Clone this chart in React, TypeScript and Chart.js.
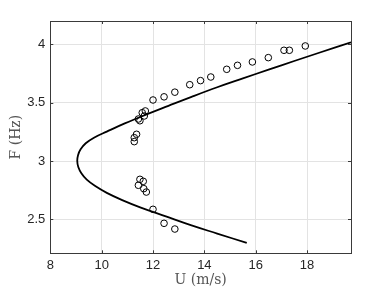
import React, { useEffect, useRef } from "react";
import { Chart, registerables } from "chart.js";

Chart.register(...registerables);

// Model curve (U in m/s, F in Hz), lower end -> vertex -> upper end
const curveU = [15.65, 14.5, 13.5, 12.5, 11.5, 10.8, 10.2, 9.75, 9.42, 9.21, 9.09, 9.05, 9.08, 9.18, 9.38, 9.7, 10.2, 10.9, 11.7, 12.6, 13.5, 14.5, 15.5, 16.5, 17.5, 18.5, 19.71];
const curveF = [2.298, 2.378, 2.448, 2.525, 2.603, 2.665, 2.727, 2.785, 2.84, 2.895, 2.948, 3.0, 3.05, 3.1, 3.152, 3.2, 3.252, 3.322, 3.395, 3.473, 3.55, 3.632, 3.708, 3.783, 3.857, 3.93, 4.018];

// Measured points
const measU = [12.0, 12.43, 12.85, 13.43, 13.85, 14.25, 14.87, 15.29, 15.87, 16.49, 17.1, 17.31, 17.93, 11.7, 11.58, 11.66, 11.43, 11.49, 11.36, 11.27, 11.27, 11.49, 11.62, 11.43, 11.64, 11.74, 12.0, 12.43, 12.85];
const measF = [3.523, 3.55, 3.59, 3.654, 3.689, 3.72, 3.786, 3.82, 3.849, 3.886, 3.949, 3.949, 3.986, 3.429, 3.414, 3.386, 3.36, 3.345, 3.229, 3.2, 3.166, 2.843, 2.826, 2.792, 2.763, 2.734, 2.586, 2.466, 2.417];

const xTicks = [8, 10, 12, 14, 16, 18];
const yTicks = [2.5, 3, 3.5, 4];
const xLabel = "U (m/s)";
const yLabel = "F (Hz)";

const AXIS_COLOR = "#3a3a3a";

const boxPlugin = {
  id: "boxAndTicks",
  afterDraw(chart: any) {
    const { ctx, chartArea: a, scales } = chart;
    const xs = scales.x;
    const ys = scales.y;
    ctx.save();
    ctx.strokeStyle = AXIS_COLOR;
    ctx.lineWidth = 1;
    ctx.beginPath();
    const L = 3;
    xTicks.forEach((v) => {
      const px = Math.round(xs.getPixelForValue(v)) + 0.5;
      ctx.moveTo(px, a.bottom);
      ctx.lineTo(px, a.bottom - L);
      ctx.moveTo(px, a.top);
      ctx.lineTo(px, a.top + L);
    });
    yTicks.forEach((v) => {
      const py = Math.round(ys.getPixelForValue(v)) + 0.5;
      ctx.moveTo(a.left, py);
      ctx.lineTo(a.left + L, py);
      ctx.moveTo(a.right, py);
      ctx.lineTo(a.right - L, py);
    });
    ctx.stroke();
    ctx.strokeRect(Math.round(a.left) + 0.5, Math.round(a.top) + 0.5, Math.round(a.right - a.left), Math.round(a.bottom - a.top));
    ctx.restore();
  },
};

export default function App() {
  const ref = useRef<HTMLCanvasElement | null>(null);
  useEffect(() => {
    if (!ref.current) return;
    const chart = new Chart(ref.current, {
      type: "scatter",
      data: {
        datasets: [
          {
            label: "model",
            data: curveU.map((u, i) => ({ x: u, y: curveF[i] })),
            showLine: true,
            borderColor: "#000000",
            borderWidth: 1.8,
            pointRadius: 0,
            tension: 0.4,
            fill: false,
          },
          {
            label: "measured",
            data: measU.map((u, i) => ({ x: u, y: measF[i] })),
            showLine: false,
            pointStyle: "circle",
            pointRadius: 3.3,
            pointBorderWidth: 1,
            borderColor: "#000000",
            backgroundColor: "rgba(0,0,0,0)",
          },
        ],
      },
      options: {
        responsive: false,
        animation: false,
        layout: { padding: { left: 0, top: 21, right: 37, bottom: 0 } },
        plugins: { legend: { display: false }, tooltip: { enabled: false } },
        scales: {
          x: {
            type: "linear",
            min: 8,
            max: 19.71,
            afterBuildTicks: (s: any) => {
              s.ticks = xTicks.map((v) => ({ value: v }));
            },
            afterFit: (s: any) => {
              s.height = 37.7;
            },
            grid: { color: "#e3e3e3", lineWidth: 1, drawTicks: false },
            border: { display: false },
            ticks: {
              color: "#262626",
              padding: 4,
              font: { family: "'Liberation Sans', Arial, sans-serif", size: 13 },
              callback: (v: any) => String(v),
            },
            title: {
              display: true,
              text: xLabel,
              color: "#555555",
              padding: { top: 0, bottom: 2 },
              font: { family: "'DejaVu Serif', serif", size: 14 },
            },
          },
          y: {
            type: "linear",
            min: 2.209,
            max: 4.2,
            afterBuildTicks: (s: any) => {
              s.ticks = yTicks.map((v) => ({ value: v }));
            },
            afterFit: (s: any) => {
              s.width = 50.3;
            },
            grid: { color: "#e3e3e3", lineWidth: 1, drawTicks: false },
            border: { display: false },
            ticks: {
              color: "#262626",
              padding: 5,
              font: { family: "'Liberation Sans', Arial, sans-serif", size: 13 },
              callback: (v: any) => String(v),
            },
            title: {
              display: true,
              text: yLabel,
              color: "#555555",
              padding: { top: 7.5, bottom: 0 },
              font: { family: "'DejaVu Serif', serif", size: 14 },
            },
          },
        },
      },
      plugins: [boxPlugin],
    });
    return () => chart.destroy();
  }, []);
  return (
    <div style={{ position: "absolute", left: 0, top: 0, width: 388, height: 291, background: "#ffffff" }}>
      <canvas ref={ref} width={388} height={291} style={{ display: "block", width: 388, height: 291 }} />
    </div>
  );
}
